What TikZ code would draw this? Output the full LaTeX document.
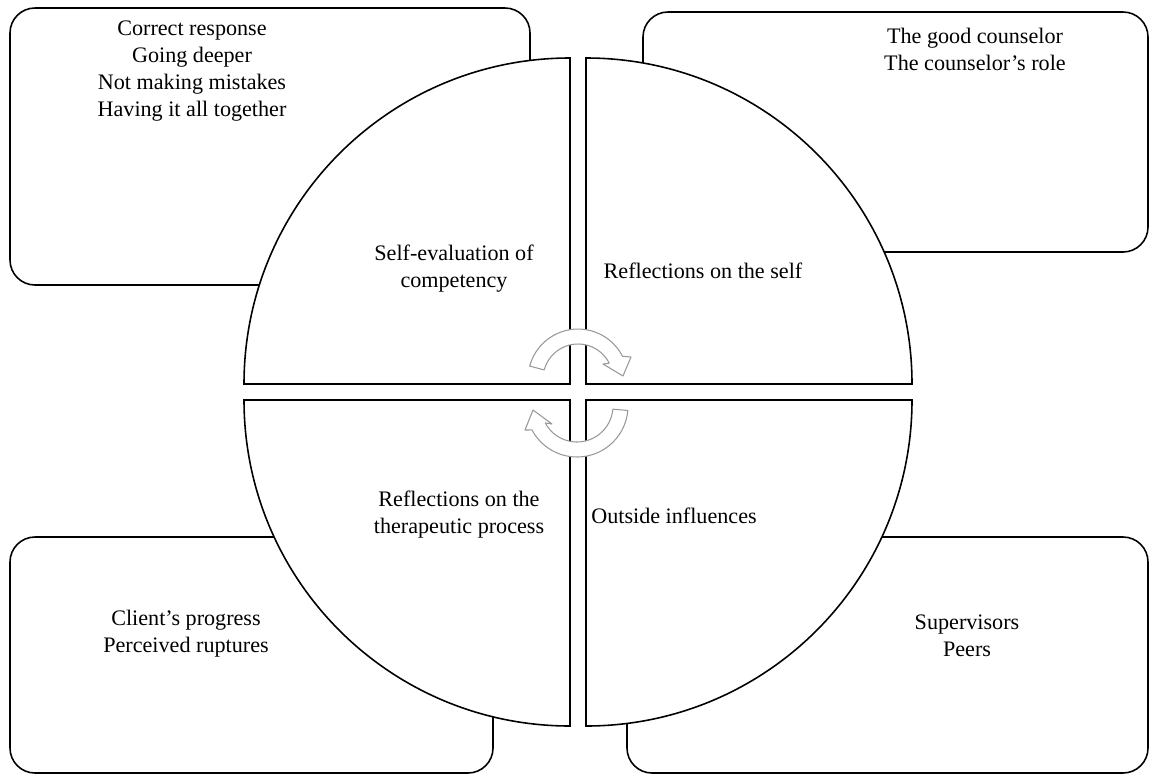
\documentclass[tikz,border=0pt]{standalone}
\usepackage{fontspec}
\setmainfont{Liberation Serif}

\begin{document}
\begin{tikzpicture}[x=0.02cm,y=-0.02cm,font=\fontsize{12.6}{15.4}\selectfont,
  box/.style={draw,line width=0.9pt,rounded corners=0.5cm},
  wedge/.style={draw,line width=0.9pt,fill=white},
  cyc/.style={draw=black!40,fill=white,line width=0.6pt,line join=round},
  lbl/.style={align=center,inner sep=0pt}]
  \useasboundingbox (0,0) rectangle (1151,774);
  % outer boxes
  \draw[box](10,8) rectangle (530,285);
  \draw[box](643,12) rectangle (1148,252);
  \draw[box](10,537) rectangle (493,773);
  \draw[box](627,537) rectangle (1148,773);
  % four quarters
  \draw[wedge](570,384) -- (570,58) arc[start angle=270,end angle=180,radius=326] -- cycle;
  \draw[wedge](586,384) -- (912,384) arc[start angle=0,end angle=-90,radius=326] -- cycle;
  \draw[wedge](570,400) -- (244,400) arc[start angle=180,end angle=90,radius=326] -- cycle;
  \draw[wedge](586,400) -- (586,726) arc[start angle=90,end angle=0,radius=326] -- cycle;
  % cycle arrows
  \draw[cyc]([shift={(195:50)}]578,379) arc[start angle=195,end angle=333,radius=50]
    -- (631,357) -- (623,376) -- (603,364)
    -- ([shift={(333:35)}]578,379) arc[start angle=333,end angle=195,radius=35] -- cycle;
  \draw[cyc]([shift={(5:51)}]577,406) arc[start angle=5,end angle=152,radius=51]
    -- (525,430) -- (533,410) -- (552,424)
    -- ([shift={(152:36)}]577,406) arc[start angle=152,end angle=5,radius=36] -- cycle;
  % texts
  \node[lbl](comp) at (192,71){Correct response\\Going deeper\\Not making mistakes\\Having it all together};
  \node[lbl](couns) at (975,49){The good counselor\\The counselor’s role};
  \node[lbl](client) at (186,634){Client’s progress\\Perceived ruptures};
  \node[lbl](sup) at (967,636){Supervisors\\Peers};
  \node[lbl](self) at (454,269){Self-evaluation of\\competency};
  \node[lbl](refl) at (703,271){Reflections on the self};
  \node[lbl](ther) at (459,515){Reflections on the\\therapeutic process};
  \node[lbl](outs) at (674,516){Outside influences};
\end{tikzpicture}
\end{document}
